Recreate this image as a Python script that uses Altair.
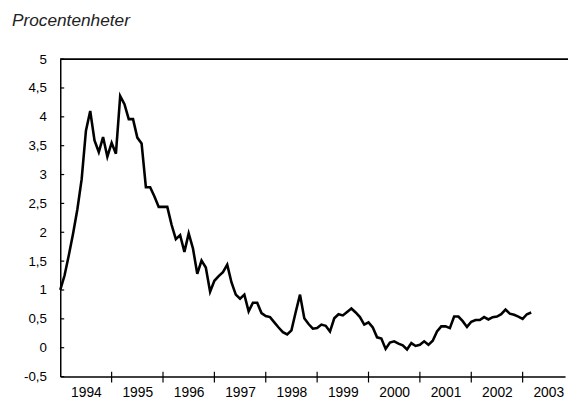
import altair as alt
import pandas as pd
import numpy as np

# Monthly series, Jan 1994 .. Mar 2003 (procentenheter)
values = [
    1.00, 1.25, 1.60, 1.98, 2.40, 2.92, 3.76, 4.10, 3.59, 3.39,
    3.65, 3.31, 3.55, 3.36, 4.36, 4.22, 3.96, 3.96, 3.64, 3.54,
    2.78, 2.78, 2.62, 2.44, 2.44, 2.44, 2.13, 1.88, 1.95, 1.66,
    1.98, 1.72, 1.28, 1.51, 1.39, 0.97, 1.16, 1.24, 1.31, 1.44,
    1.13, 0.92, 0.85, 0.92, 0.63, 0.78, 0.78, 0.60, 0.55, 0.53,
    0.44, 0.35, 0.27, 0.23, 0.30, 0.62, 0.92, 0.51, 0.41, 0.33,
    0.34, 0.40, 0.38, 0.28, 0.51, 0.58, 0.56, 0.62, 0.68, 0.61,
    0.53, 0.40, 0.44, 0.35, 0.18, 0.16, -0.02, 0.09, 0.11, 0.07,
    0.04, -0.03, 0.08, 0.03, 0.05, 0.11, 0.05, 0.12, 0.28, 0.37,
    0.37, 0.34, 0.54, 0.54, 0.46, 0.36, 0.45, 0.48, 0.48, 0.53,
    0.49, 0.53, 0.54, 0.58, 0.66, 0.59, 0.57, 0.54, 0.50, 0.58,
    0.61,
]
start_year = 1994
year_labels = [1994, 1995, 1996, 1997, 1998, 1999, 2000, 2001, 2002, 2003]
y_ticks = [-0.5, 0, 0.5, 1, 1.5, 2, 2.5, 3, 3.5, 4, 4.5, 5]
title_text = "Procentenheter"

W, H = 512, 322
FONT = "Liberation Sans"
X_END = 1994 + W / 52.11

df = pd.DataFrame({"t": start_year + np.arange(len(values)) / 12.0, "v": values})
xt = pd.DataFrame({"t": year_labels[1:]})
yt = pd.DataFrame({"v": y_ticks})
frame_top = pd.DataFrame({"t": [year_labels[0], X_END + 0.06], "v": [y_ticks[-1], y_ticks[-1]]})

xscale = alt.Scale(domain=[1994, X_END], nice=False, zero=False)
yscale = alt.Scale(domain=[-0.5, 5], nice=False, zero=False)

x_axis = alt.Axis(values=year_labels, format="d", title=None, ticks=False,
                  tickSize=0, labelOffset=26, labelPadding=9, grid=False,
                  domainColor="black", domainWidth=1.5, labelFont=FONT,
                  labelFontSize=14, labelColor="black", labelFlush=False,
                  labelOverlap=False)
y_axis = alt.Axis(values=y_ticks, title=None, ticks=False, tickSize=0,
                  labelPadding=14, grid=False, domainColor="black",
                  domainWidth=1.5, labelFont=FONT, labelFontSize=13.5,
                  labelColor="black", labelOverlap=False, labelFlush=False,
                  labelBound=False,
                  labelExpr="replace(toString(datum.value), '.', ',')")

line = alt.Chart(df).mark_line(color="black", strokeWidth=2.6).encode(
    x=alt.X("t:Q", scale=xscale, axis=x_axis),
    y=alt.Y("v:Q", scale=yscale, axis=y_axis),
)

top = alt.Chart(frame_top).mark_line(color="black", strokeWidth=1.6, clip=False).encode(
    x=alt.X("t:Q", scale=xscale, axis=x_axis),
    y=alt.Y("v:Q", scale=yscale, axis=y_axis),
)

xticks = alt.Chart(xt).mark_rule(color="black", strokeWidth=1.2).encode(
    x=alt.X("t:Q", scale=xscale, axis=x_axis), y=alt.value(H - 5), y2=alt.value(H + 6)
)
yticks = alt.Chart(yt).mark_rule(color="black", strokeWidth=1.2).encode(
    y=alt.Y("v:Q", scale=yscale, axis=y_axis), x=alt.value(0), x2=alt.value(4)
)

chart = alt.layer(line, top, yticks, xticks).properties(
    width=W, height=H,
    title=alt.Title(title_text, anchor="start", frame="group", dx=-49, offset=23,
                    font=FONT, fontSize=17.5, fontStyle="italic", fontWeight="normal",
                    color="#222222"),
    padding={"left": 53, "top": 49, "right": 3, "bottom": 26},
    autosize=alt.AutoSizeParams(type="none"),
).configure_view(stroke=None).configure_axis(labelOverlap=False)

chart.save("out.html", embed_options={"renderer": "svg", "actions": False})
